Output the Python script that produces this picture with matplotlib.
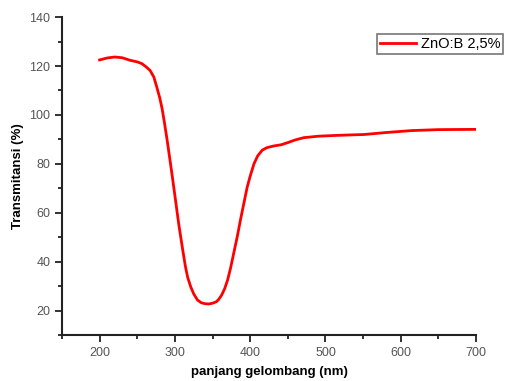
import matplotlib.pyplot as plt
from matplotlib.ticker import MultipleLocator

plt.rcParams['font.family'] = ['Liberation Sans', 'DejaVu Sans']

# data
panjang = [200, 210, 220, 230, 240, 250, 256, 262, 267, 272, 276, 280, 283, 286,
           290, 293, 296, 299, 302, 305, 307, 310, 314, 317, 321, 325, 330, 335,
           340, 345, 350, 355, 358, 362, 366, 370, 374, 378, 383, 387, 392, 396,
           400, 405, 410, 416, 422, 431, 441, 450, 460, 471, 490, 511, 530, 551,
           580, 614, 650, 700]
transmitansi = [122.5, 123.3, 123.7, 123.4, 122.4, 121.7, 121.0, 119.6, 118.2, 115.5,
                111.3, 106.8, 102.5, 97.0, 89.0, 82.5, 76.0, 69.2, 62.4, 55.5,
                51.5, 45.5, 37.9, 33.5, 29.7, 26.8, 24.3, 23.2, 22.8, 22.7, 23.0,
                23.6, 24.5, 26.3, 28.9, 32.5, 37.5, 43.3, 50.5, 57.0, 64.5, 70.5,
                75.0, 80.0, 83.3, 85.6, 86.6, 87.3, 87.8, 88.7, 89.8, 90.7, 91.3,
                91.6, 91.8, 92.0, 92.8, 93.6, 94.0, 94.1]
label = 'ZnO:B 2,5%'

fig = plt.figure(figsize=(5.18, 3.81), dpi=100)
ax = fig.add_axes([0.1197, 0.1207, 0.7993, 0.8343])

ax.plot(panjang, transmitansi, color='#ff0000', lw=2, label=label)

ax.set_xlim(150, 700)
ax.set_ylim(10, 140)
ax.xaxis.set_major_locator(MultipleLocator(100))
ax.xaxis.set_minor_locator(MultipleLocator(50))
ax.yaxis.set_minor_locator(MultipleLocator(10))
ax.set_yticks(range(20, 141, 20))

for s in ['top', 'right']:
    ax.spines[s].set_visible(False)
for s in ['left', 'bottom']:
    ax.spines[s].set_linewidth(1.5)
    ax.spines[s].set_color('#222222')

ax.tick_params(which='major', direction='out', length=5, width=1.3,
               labelsize=9, labelcolor='#555555', color='#222222')
ax.tick_params(which='minor', direction='out', length=3, width=1.3, color='#222222')

ax.set_xlabel('panjang gelombang (nm)', fontsize=9.5, fontweight='bold', labelpad=5)
ax.set_ylabel('Transmitansi (%)', fontsize=9.5, fontweight='bold', labelpad=4)

leg = fig.legend(loc='upper left', bbox_to_anchor=(377 / 518, 1 - 34 / 381),
                 fontsize=10.5, fancybox=False, edgecolor='#777777',
                 handlelength=2.5, handletextpad=0.3, borderpad=0.2,
                 borderaxespad=0, framealpha=1)
leg.get_frame().set_linewidth(1.2)

fig.savefig('out.png', dpi=100)
